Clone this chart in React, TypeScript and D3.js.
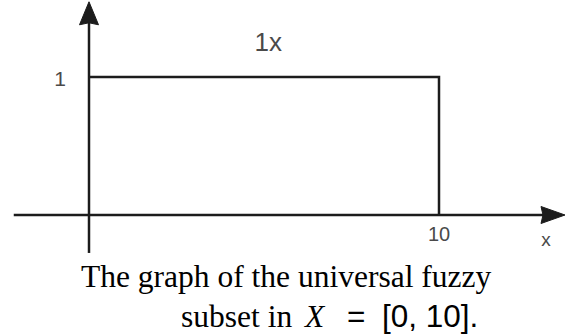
import React from "react";
import * as d3 from "d3";

// Universal fuzzy subset on X = [0, 10]: membership is 1 everywhere on the interval.
const universeX = [0, 10];
const membershipY = [0, 1];
const curveX = [0, 10, 10];
const curveY = [1, 1, 0];
const xTickValues = [10];
const yTickValues = [1];
const curveLabel = "1";
const curveLabelSub = "x";
const xAxisName = "x";
const axisExtentX = [-2.15, 13.6];
const axisExtentY = [-0.275, 1.545];

const W = 573;
const H = 335;

export default function App() {
  const x = d3.scaleLinear().domain(universeX).range([89, 439]);
  const y = d3.scaleLinear().domain(membershipY).range([215, 77]);

  const pts: [number, number][] = curveX.map((v, i) => [v, curveY[i]]);
  const line = d3
    .line<[number, number]>()
    .x((d) => x(d[0]))
    .y((d) => y(d[1]));

  const stroke = "#1c1c1c";
  const sw = 2.5;
  const labelColor = "#4a4a4a";

  const x0 = x(axisExtentX[0]);
  const x1 = x(axisExtentX[1]);
  const yb = y(axisExtentY[0]);
  const yt = y(axisExtentY[1]);
  const ax0 = x(0);
  const ay0 = y(0);

  return (
    <svg
      width={W}
      height={H}
      viewBox={`0 0 ${W} ${H}`}
      style={{ position: "absolute", left: 0, top: 0, background: "#fff" }}
    >
      {/* horizontal axis with arrow head */}
      <line x1={x0} y1={ay0} x2={x1 - 20} y2={ay0} stroke={stroke} strokeWidth={sw} />
      <path
        d={`M${x1},${ay0} L${x1 - 24},${ay0 - 8.5} L${x1 - 22},${ay0} L${x1 - 24},${ay0 + 8.5} Z`}
        fill={stroke}
        stroke={stroke}
        strokeWidth={1}
        strokeLinejoin="round"
      />
      {/* vertical axis with arrow head */}
      <line x1={ax0} y1={yb} x2={ax0} y2={yt + 20} stroke={stroke} strokeWidth={sw} />
      <path
        d={`M${ax0},${yt} L${ax0 - 9.5},${yt + 23} L${ax0},${yt + 21} L${ax0 + 9.5},${yt + 23} Z`}
        fill={stroke}
        stroke={stroke}
        strokeWidth={1}
        strokeLinejoin="round"
      />

      {/* membership function */}
      <path d={line(pts) ?? ""} fill="none" stroke={stroke} strokeWidth={sw} />

      {/* tick labels */}
      {xTickValues.map((t) => (
        <text
          key={`xt${t}`}
          x={x(t)}
          y={ay0 + 26}
          textAnchor="middle"
          fontFamily="Liberation Sans, Arial, sans-serif"
          fontSize={20}
          fill={labelColor}
        >
          {t}
        </text>
      ))}
      {yTickValues.map((t) => (
        <text
          key={`yt${t}`}
          x={ax0 - 23}
          y={y(t) + 9}
          textAnchor="end"
          fontFamily="Liberation Sans, Arial, sans-serif"
          fontSize={21}
          fill={labelColor}
        >
          {t}
        </text>
      ))}
      <text
        x={x1 - 19}
        y={ay0 + 31}
        textAnchor="middle"
        fontFamily="Liberation Sans, Arial, sans-serif"
        fontSize={19}
        fill={labelColor}
      >
        {xAxisName}
      </text>

      {/* curve label 1x */}
      <text
        x={x(4.73)}
        y={y(1) - 26}
        fontFamily="Liberation Sans, Arial, sans-serif"
        fontSize={26}
        fill={labelColor}
      >
        {curveLabel}
        <tspan>{curveLabelSub}</tspan>
      </text>

      {/* caption */}
      <text
        x={81}
        y={287}
        fontFamily="Liberation Serif, Times New Roman, serif"
        fontSize={31.5}
        fill="#000"
      >
        The graph of the universal fuzzy
      </text>
      <text y={327} fontSize={31.5} fill="#000">
        <tspan x={181} fontFamily="Liberation Serif, Times New Roman, serif">
          subset in
        </tspan>
        <tspan
          x={305}
          fontFamily="Liberation Serif, Times New Roman, serif"
          fontStyle="italic"
        >
          X
        </tspan>
        <tspan x={347} fontFamily="Liberation Sans, Arial, sans-serif">
          =
        </tspan>
        <tspan x={382} fontFamily="Liberation Sans, Arial, sans-serif">
          [0, 10].
        </tspan>
      </text>
    </svg>
  );
}
